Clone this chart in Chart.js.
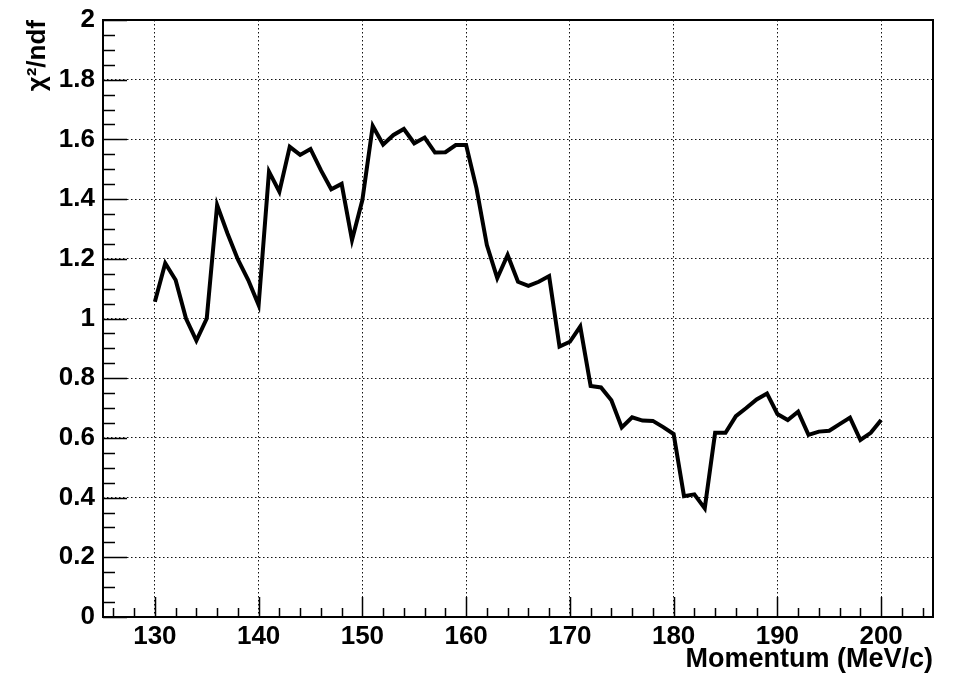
<!DOCTYPE html>
<html>
<head>
<meta charset="utf-8">
<script src="https://cdn.jsdelivr.net/npm/chart.js@4/dist/chart.umd.min.js"></script>
<style>
  html, body { margin: 0; padding: 0; background: #fff; }
  canvas { display: block; }
</style>
</head>
<body>
<canvas id="chi2Chart" width="956" height="679"></canvas>
<script>
// chi2/ndf vs momentum
const momentum = [
  130, 131, 132, 133, 134, 135, 136, 137, 138, 139,
  140, 141, 142, 143, 144, 145, 146, 147, 148, 149,
  150, 151, 152, 153, 154, 155, 156, 157, 158, 159,
  160, 161, 162, 163, 164, 165, 166, 167, 168, 169,
  170, 171, 172, 173, 174, 175, 176, 177, 178, 179,
  180, 181, 182, 183, 184, 185, 186, 187, 188, 189,
  190, 191, 192, 193, 194, 195, 196, 197, 198, 199,
  200
];
const chi2 = [
  1.056, 1.185, 1.129, 1.000, 0.926, 1.000, 1.380, 1.285, 1.198, 1.129,
  1.045, 1.492, 1.425, 1.575, 1.548, 1.568, 1.497, 1.433, 1.451, 1.263,
  1.397, 1.645, 1.583, 1.615, 1.635, 1.587, 1.606, 1.556, 1.557, 1.581,
  1.581, 1.436, 1.246, 1.135, 1.213, 1.123, 1.109, 1.123, 1.142, 0.906,
  0.922, 0.973, 0.774, 0.769, 0.726, 0.635, 0.669, 0.658, 0.657, 0.636,
  0.613, 0.405, 0.411, 0.364, 0.617, 0.617, 0.673, 0.700, 0.729, 0.749,
  0.680, 0.660, 0.688, 0.610, 0.621, 0.624, 0.646, 0.668, 0.593, 0.617,
  0.660
];
const xTicks = [130, 140, 150, 160, 170, 180, 190, 200];
const yTicks = [0, 0.2, 0.4, 0.6, 0.8, 1, 1.2, 1.4, 1.6, 1.8, 2];

const FONT = "'Liberation Sans', Arial, Helvetica, sans-serif";

// ROOT style: inward major/minor ticks plus a closed frame
const rootFrame = {
  id: 'rootFrame',
  afterDraw(chart) {
    const { ctx, chartArea: a, scales: { x, y } } = chart;
    ctx.save();
    ctx.strokeStyle = '#000';
    ctx.lineWidth = 1.5;
    ctx.beginPath();
    for (let v = 126; v <= 204; v += 2) {
      const px = Math.round(x.getPixelForValue(v)) + 0.5;
      const len = v % 10 === 0 ? 20 : 9;
      ctx.moveTo(px, a.bottom);
      ctx.lineTo(px, a.bottom - len);
    }
    for (let k = 0; k <= 40; k++) {
      const py = Math.round(y.getPixelForValue(k * 0.05)) + 0.5;
      const len = k % 4 === 0 ? 24 : 12;
      ctx.moveTo(a.left, py);
      ctx.lineTo(a.left + len, py);
    }
    ctx.stroke();
    ctx.lineWidth = 2;
    ctx.strokeRect(a.left, a.top, a.right - a.left, a.bottom - a.top);
    ctx.restore();
  }
};

const ctx = document.getElementById('chi2Chart').getContext('2d');
new Chart(ctx, {
  type: 'line',
  data: {
    datasets: [{
      data: momentum.map((m, i) => ({ x: m, y: chi2[i] })),
      borderColor: '#000',
      borderWidth: 4,
      pointRadius: 0,
      tension: 0,
      fill: false
    }]
  },
  options: {
    responsive: false,
    animation: false,
    layout: { padding: { top: 20, right: 23, left: 0, bottom: 0 } },
    plugins: { legend: { display: false }, tooltip: { enabled: false } },
    scales: {
      x: {
        type: 'linear',
        min: 125,
        max: 205,
        afterBuildTicks: s => { s.ticks = xTicks.map(v => ({ value: v })); },
        afterFit: s => { s.height = 62; s.paddingLeft = 0; s.paddingRight = 0; },
        grid: { color: '#111', lineWidth: 1, drawTicks: false },
        border: { display: false, dash: [1.5, 2.5] },
        ticks: {
          autoSkip: false, maxRotation: 0, padding: 4,
          color: '#000', font: { family: FONT, size: 26, weight: 'bold' }
        },
        title: {
          display: true, text: 'Momentum (MeV/c)', align: 'end',
          color: '#000', font: { family: FONT, size: 27, weight: 'bold' },
          padding: { top: 0, bottom: 3 }
        }
      },
      y: {
        min: 0,
        max: 2,
        afterBuildTicks: s => { s.ticks = yTicks.map(v => ({ value: v })); },
        afterFit: s => { s.width = 103; s.paddingTop = 0; s.paddingBottom = 0; },
        grid: {
          drawTicks: false, lineWidth: 1,
          color: c => (c.tick && (c.tick.value === 0 || c.tick.value === 2)) ? 'rgba(0,0,0,0)' : '#111'
        },
        border: { display: false, dash: [1.5, 2.5] },
        ticks: {
          padding: 8, color: '#000',
          font: { family: FONT, size: 26, weight: 'bold' },
          callback: v => String(Math.round(v * 10) / 10)
        },
        title: {
          display: true, text: 'χ²/ndf', align: 'end',
          color: '#000', font: { family: FONT, size: 26, weight: 'bold' },
          padding: { top: 22, bottom: 0 }
        }
      }
    }
  },
  plugins: [rootFrame]
});
</script>
</body>
</html>
